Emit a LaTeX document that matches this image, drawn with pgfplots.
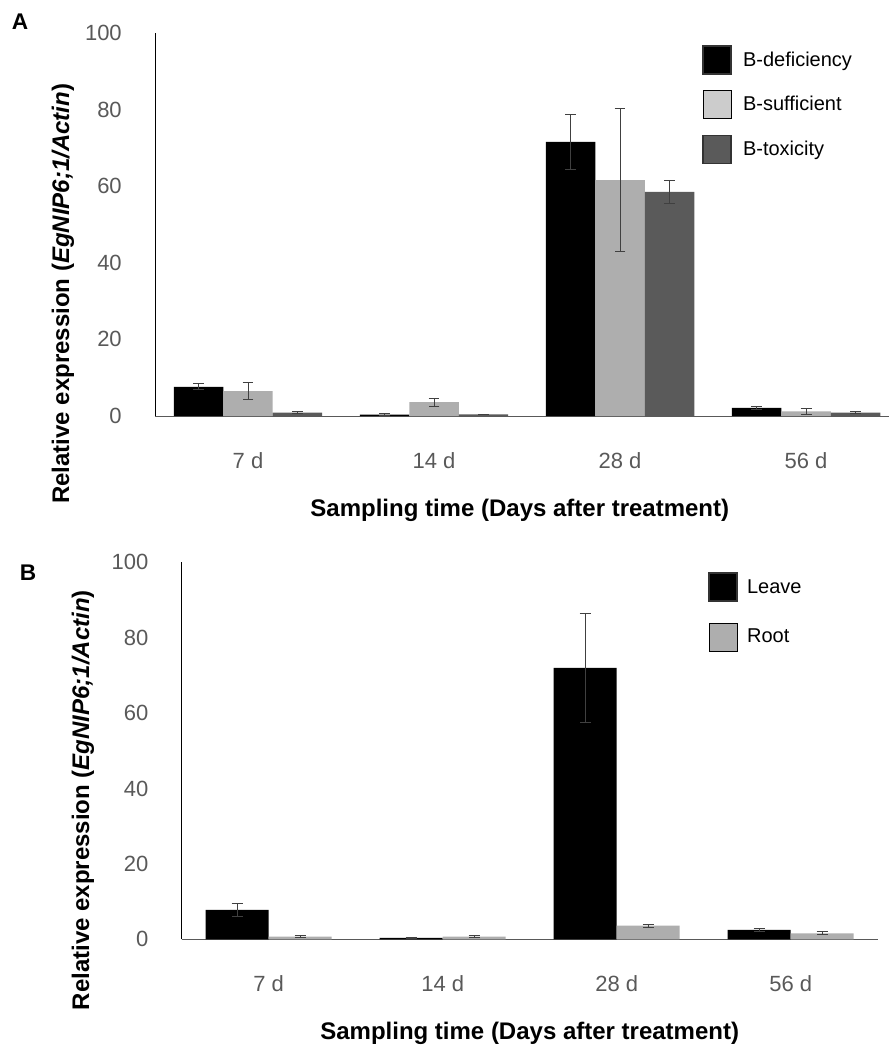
\documentclass[border=0pt]{standalone}
\usepackage{fontspec}
\setmainfont{Liberation Sans}
\usepackage{pgfplots}
\pgfplotsset{compat=1.18}

\definecolor{barlight}{HTML}{AEAEAE}
\definecolor{swlight}{HTML}{CCCCCC}
\definecolor{bardark}{HTML}{5A5A5A}
\definecolor{ticktext}{HTML}{595959}
\definecolor{errcol}{HTML}{404040}

\pgfplotsset{
  swatch/.style={legend image code/.code={\draw[##1] (0pt,-10.5pt) rectangle (21pt,10.5pt);}},
  panel/.style={
    scale only axis,
    ybar=0pt,
    ymin=0, ymax=100,
    ytick={0,20,...,100},
    xmin=-0.5,
    xtick={0,1,2,3},
    xticklabels={7 d,14 d,28 d,56 d},
    axis x line*=bottom, axis y line*=left,
    axis line style={-},
    x axis line style={draw=black!65},
    major tick length=0pt,
    /pgf/number format/assume math mode=true,
    tick label style={font=\fontsize{16.5}{19}\selectfont, text=ticktext},
    yticklabel style={anchor=east, inner sep=0pt, xshift=-24.75pt},
    xticklabel style={anchor=north, inner sep=0pt, yshift=-27pt},
    label style={font=\bfseries\fontsize{18}{22}\selectfont},
    legend cell align=left,
    legend style={draw=none, fill=none, inner sep=0pt, anchor=north west,
      nodes={inner sep=0pt}, font=\fontsize{15}{18}\selectfont},
  },
  errs/.style={error bars/.cd, y dir=both, y explicit,
    error bar style={line width=0.75pt, errcol},
    error mark options={rotate=90, line width=0.75pt, errcol, mark size=4.1pt}},
}

\begin{document}
\begin{tikzpicture}
\path[use as bounding box] (0,0) rectangle (889*0.75pt,-1046*0.75pt);

\node[font=\bfseries\fontsize{17}{20}\selectfont] at (20*0.75pt,-22*0.75pt) {A};
\node[font=\bfseries\fontsize{17}{20}\selectfont] at (28*0.75pt,-573*0.75pt) {B};

% ---------------- panel A ----------------
\begin{axis}[panel,
    at={(155*0.75pt,-416*0.75pt)}, anchor=south west,
    width=550.5pt, height=287.25pt,
    xmax=3.446,
    bar width=0.266,
    xlabel={Sampling time (Days after treatment)},
    xlabel style={at={(axis description cs:0.497,0)}, anchor=center, yshift=-70.5pt},
    ylabel={Relative expression (\textit{EgNIP6;1/Actin})},
    ylabel style={at={(axis description cs:-0.1253,0.319)}, anchor=center},
    legend style={at={(0.745,0.969)}, row sep=11.75pt, column sep=8.5pt},
]
\addplot[fill=black, draw=none, swatch,
    legend image post style={draw=black!80, line width=1.2pt}, errs]
coordinates {
    (0,7.6) +- (0,0.8)
    (1,0.35) +- (0,0.2)
    (2,71.6) +- (0,7.2)
    (3,2.1) +- (0,0.3)
};
\addlegendentry{B-deficiency}

\addplot[fill=barlight, draw=none, swatch,
    legend image post style={fill=swlight, draw=none}, errs]
coordinates {
    (0,6.5) +- (0,2.2)
    (1,3.6) +- (0,1.1)
    (2,61.6) +- (0,18.6)
    (3,1.2) +- (0,0.7)
};
\addlegendentry{B-sufficient}

\addplot[fill=bardark, draw=none, swatch,
    legend image post style={draw=black!80, line width=1.2pt}, errs]
coordinates {
    (0,0.9) +- (0,0.2)
    (1,0.4) +- (0,0.1)
    (2,58.5) +- (0,3.0)
    (3,0.9) +- (0,0.3)
};
\addlegendentry{B-toxicity}
\end{axis}

% ---------------- panel B ----------------
\begin{axis}[panel,
    at={(181.7*0.75pt,-939.3*0.75pt)}, anchor=south west,
    width=522pt, height=282.75pt,
    xmax=3.5,
    bar width=0.362,
    xlabel={Sampling time (Days after treatment)},
    xlabel style={at={(axis description cs:0.5,0)}, anchor=center, yshift=-70.5pt},
    ylabel={Relative expression (\textit{EgNIP6;1/Actin})},
    ylabel style={at={(axis description cs:-0.1418,0.369)}, anchor=center},
    legend style={at={(0.756,0.974)}, row sep=15.5pt, column sep=7pt},
]
\addplot[fill=black, draw=none, swatch,
    legend image post style={draw=black!80, line width=1.2pt}, errs]
coordinates {
    (0,7.8) +- (0,1.7)
    (1,0.35) +- (0,0.1)
    (2,72.0) +- (0,14.5)
    (3,2.5) +- (0,0.3)
};
\addlegendentry{Leave}

\addplot[fill=barlight, draw=none, swatch,
    legend image post style={draw=none}, errs]
coordinates {
    (0,0.7) +- (0,0.2)
    (1,0.7) +- (0,0.2)
    (2,3.6) +- (0,0.4)
    (3,1.6) +- (0,0.4)
};
\addlegendentry{Root}
\end{axis}
\end{tikzpicture}
\end{document}
